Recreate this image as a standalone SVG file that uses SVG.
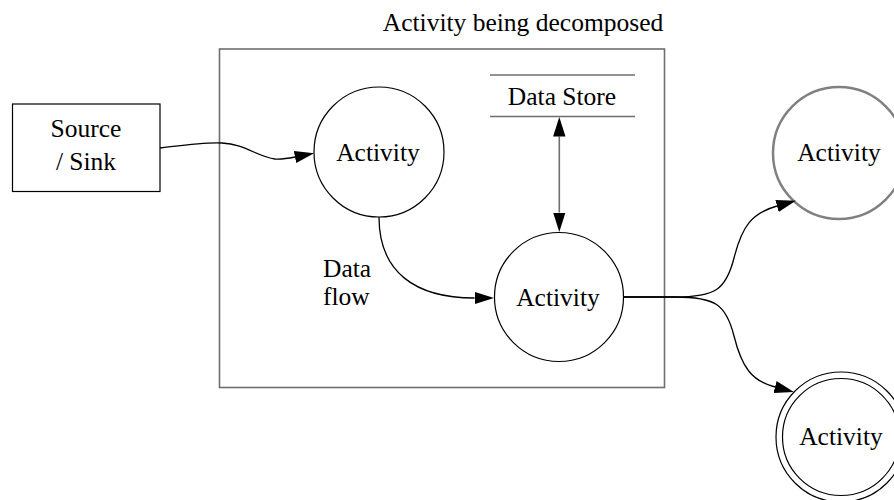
<svg xmlns="http://www.w3.org/2000/svg" width="894" height="500" viewBox="0 0 894 500" font-family="'Liberation Serif', 'Times New Roman', serif">
<style>
text{font-family:"Liberation Serif","Times New Roman",serif;font-size:25.5px;fill:#000;text-anchor:middle}
.node{fill:none;stroke:#000;stroke-width:1.2}
.edge{fill:none;stroke:#000;stroke-width:1.3}
.grey{fill:none;stroke:#6e6e6e;stroke-width:1.6}
</style>
<defs>
<marker id="arr" viewBox="0 0 20 14" refX="0" refY="7" markerWidth="20" markerHeight="14" markerUnits="userSpaceOnUse" orient="auto-start-reverse">
<path d="M0,0.8 L19.5,7 L0,13.2 Z" fill="#000"/>
</marker>
</defs>
<g id="cluster">
<rect class="grey" x="219.5" y="49" width="445" height="338.5"/>
<text x="523" y="31">Activity being decomposed</text>
</g>
<g id="source">
<rect class="node" x="12.5" y="104" width="147.5" height="87.5" stroke="#555"/>
<text x="86" y="137">Source</text>
<text x="86" y="169.5">/ Sink</text>
</g>
<g id="activity1">
<circle class="node" cx="379" cy="152" r="65"/>
<text x="378" y="161">Activity</text>
</g>
<g id="datastore">
<line class="grey" x1="490" y1="75" x2="635" y2="75"/>
<line class="grey" x1="490" y1="116.5" x2="635" y2="116.5"/>
<text x="562" y="104.5">Data Store</text>
</g>
<g id="activity2">
<circle class="node" cx="559" cy="297" r="64.5"/>
<text x="558" y="305.5">Activity</text>
</g>
<g id="activity3">
<circle cx="839" cy="153" r="66" fill="none" stroke="#808080" stroke-width="2.5"/>
<text x="839" y="161">Activity</text>
</g>
<g id="activity4">
<circle class="node" cx="841" cy="437" r="65"/>
<circle class="node" cx="841" cy="437" r="58.5"/>
<text x="841" y="445">Activity</text>
</g>
<g id="connectors">
<path class="edge" d="M160,148 C185,145 205,142 222,143 C245,144 258,157 275,159 C282,159.6 288,158.4 295,157" marker-end="url(#arr)"/>
<path class="edge" d="M379,217 C379,272 415,298 474.5,298" marker-end="url(#arr)"/>
<line x1="559.3" y1="136.5" x2="559.3" y2="212.5" stroke="#6e6e6e" stroke-width="1.6" marker-start="url(#arr)" marker-end="url(#arr)"/>
<path class="edge" d="M623.5,297 L675,297 C715,297 726,290 734,258 C742,226 752,213 777,206" marker-end="url(#arr)"/>
<path class="edge" d="M623.5,297 L675,297 C715,297 726,304 734,336 C742,368 752,381 775,387" marker-end="url(#arr)"/>
<text x="323" y="277" style="text-anchor:start">Data</text>
<text x="323" y="305" style="text-anchor:start">flow</text>
</g>
</svg>
